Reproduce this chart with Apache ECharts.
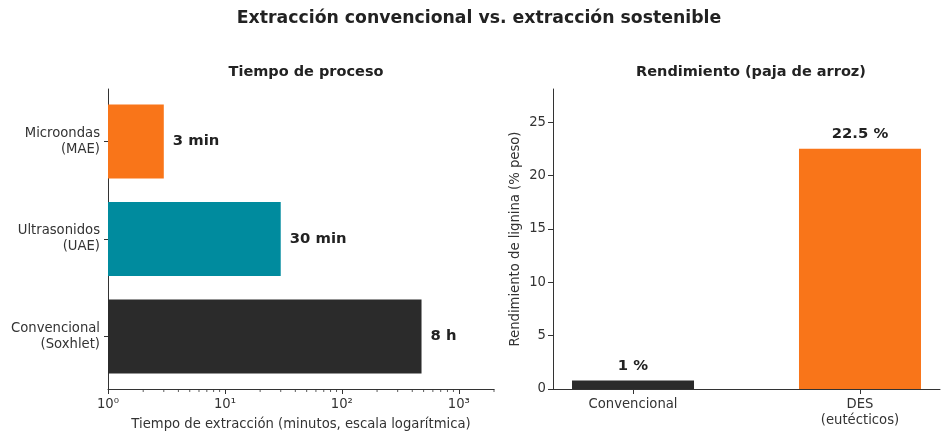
<!DOCTYPE html>
<html>
<head>
<meta charset="utf-8">
<script src="https://cdn.jsdelivr.net/npm/echarts@6/dist/echarts.min.js"></script>
<style>
html,body{margin:0;padding:0;background:#fff;}
#chart{width:949px;height:442px;}
</style>
</head>
<body>
<div id="chart"></div>
<script>
// ---- data ----
const timeCategories = ['Convencional\n(Soxhlet)', 'Ultrasonidos\n(UAE)', 'Microondas\n(MAE)'];
const timeMinutes = [480, 30, 3];
const timeLabels = ['8 h', '30 min', '3 min'];
const timeColors = ['#2B2B2B', '#008B9E', '#F97519'];
const logMajorTicks = [1, 10, 100, 1000];
const logMinorTicks = [2,3,4,5,6,7,8,9,20,30,40,50,60,70,80,90,200,300,400,500,600,700,800,900,2000];

const yieldCategories = ['Convencional', 'DES\n(eutécticos)'];
const yieldValues = [0.8, 22.5];
const yieldLabels = ['1 %', '22.5 %'];
const yieldColors = ['#2B2B2B', '#F97519'];
const yieldTicks = [0, 5, 10, 15, 20, 25];

const FONT = 'DejaVu Sans';
const TXT = '#222';
const LBL = '#333';
const TICK_FS = 13.2;
const sup = {'0':'\u2070','1':'\u00B9','2':'\u00B2','3':'\u00B3','4':'\u2074'};

const chart = echarts.init(document.getElementById('chart'), null, {renderer: 'canvas'});
const axisLineStyle = {color: '#333', width: 1};

const option = {
  backgroundColor: '#fff',
  animation: false,
  textStyle: {fontFamily: FONT},
  title: [
    {text: 'Extracción convencional vs. extracción sostenible', left: 474, top: 5, textAlign: 'center',
     textStyle: {fontFamily: FONT, fontSize: 17.3, fontWeight: 'bold', color: TXT}},
    {text: 'Tiempo de proceso', left: 301, top: 60, textAlign: 'center',
     textStyle: {fontFamily: FONT, fontSize: 14.5, fontWeight: 'bold', color: TXT}},
    {text: 'Rendimiento (paja de arroz)', left: 746, top: 60, textAlign: 'center',
     textStyle: {fontFamily: FONT, fontSize: 14.5, fontWeight: 'bold', color: TXT}}
  ],
  grid: [
    {left: 108, right: 455, top: 89, bottom: 53},      // frame of left panel
    {left: 108, right: 455, top: 92.9, bottom: 56.9},  // bar band area of left panel
    {left: 553, right: 9, top: 89, bottom: 53}         // right panel
  ],
  xAxis: [
    {
      type: 'log', gridIndex: 0, logBase: 10, min: 1, max: 2000,
      name: 'Tiempo de extracción (minutos, escala logarítmica)',
      nameLocation: 'middle', nameGap: 29,
      nameTextStyle: {fontFamily: FONT, fontSize: TICK_FS, color: LBL},
      axisLine: {show: true, lineStyle: axisLineStyle},
      axisTick: {show: true, length: 5, lineStyle: axisLineStyle, customValues: logMajorTicks},
      axisLabel: {
        customValues: logMajorTicks, margin: 9,
        fontFamily: FONT, fontSize: TICK_FS, color: LBL,
        formatter: v => '10' + sup[String(Math.round(Math.log10(v)))]
      },
      splitLine: {show: false}, minorTick: {show: false}
    },
    {
      type: 'log', gridIndex: 1, logBase: 10, min: 1, max: 2000, show: false
    },
    {
      type: 'value', gridIndex: 2, min: -0.3525, max: 1.3525,
      axisLine: {show: true, lineStyle: axisLineStyle},
      axisTick: {show: true, length: 5, lineStyle: axisLineStyle, customValues: [0, 1]},
      axisLabel: {
        customValues: [0, 1], margin: 8,
        fontFamily: FONT, fontSize: TICK_FS, color: LBL, lineHeight: 16,
        formatter: v => yieldCategories[Math.round(v)]
      },
      splitLine: {show: false}
    }
  ],
  yAxis: [
    {
      type: 'value', gridIndex: 0, min: 0, max: 1,
      axisLine: {show: true, onZero: false, lineStyle: axisLineStyle},
      axisTick: {show: false}, axisLabel: {show: false}, splitLine: {show: false}
    },
    {
      type: 'category', gridIndex: 1, data: timeCategories,
      axisLine: {show: false},
      axisTick: {show: true, length: 4, alignWithLabel: true, lineStyle: axisLineStyle},
      axisLabel: {fontFamily: FONT, fontSize: TICK_FS, color: LBL, margin: 8, lineHeight: 16, padding: [4, 0, 0, 0]},
      splitLine: {show: false}
    },
    {
      type: 'value', gridIndex: 2, min: 0, max: 28.1,
      name: 'Rendimiento de lignina (% peso)',
      nameLocation: 'middle', nameGap: 31, nameRotate: 90,
      nameTextStyle: {fontFamily: FONT, fontSize: TICK_FS, color: LBL},
      axisLine: {show: true, onZero: false, lineStyle: axisLineStyle},
      axisTick: {show: true, length: 5, lineStyle: axisLineStyle, customValues: yieldTicks},
      axisLabel: {customValues: yieldTicks, fontFamily: FONT, fontSize: TICK_FS, color: LBL, margin: 7},
      splitLine: {show: false}
    }
  ],
  series: [
    {
      type: 'bar', xAxisIndex: 1, yAxisIndex: 1, barWidth: 74,
      data: timeMinutes.map((v, i) => ({value: v, itemStyle: {color: timeColors[i]}})),
      label: {
        show: true, position: 'right', distance: 9,
        fontFamily: FONT, fontSize: 14.8, fontWeight: 'bold', color: TXT,
        formatter: p => timeLabels[p.dataIndex]
      }
    },
    {
      type: 'scatter', xAxisIndex: 0, yAxisIndex: 0, silent: true, clip: false,
      symbol: 'rect', symbolSize: [1, 3], symbolOffset: [0, 1.5],
      itemStyle: {color: '#333'},
      data: logMinorTicks.map(v => [v, 0])
    },
    {
      type: 'bar', xAxisIndex: 2, yAxisIndex: 2, barWidth: 122,
      data: yieldValues.map((v, i) => ({value: [i, v], itemStyle: {color: yieldColors[i]}})),
      label: {
        show: true, position: 'top', distance: 7,
        fontFamily: FONT, fontSize: 14.8, fontWeight: 'bold', color: TXT,
        formatter: p => yieldLabels[p.dataIndex]
      }
    }
  ]
};
chart.setOption(option);
</script>
</body>
</html>
